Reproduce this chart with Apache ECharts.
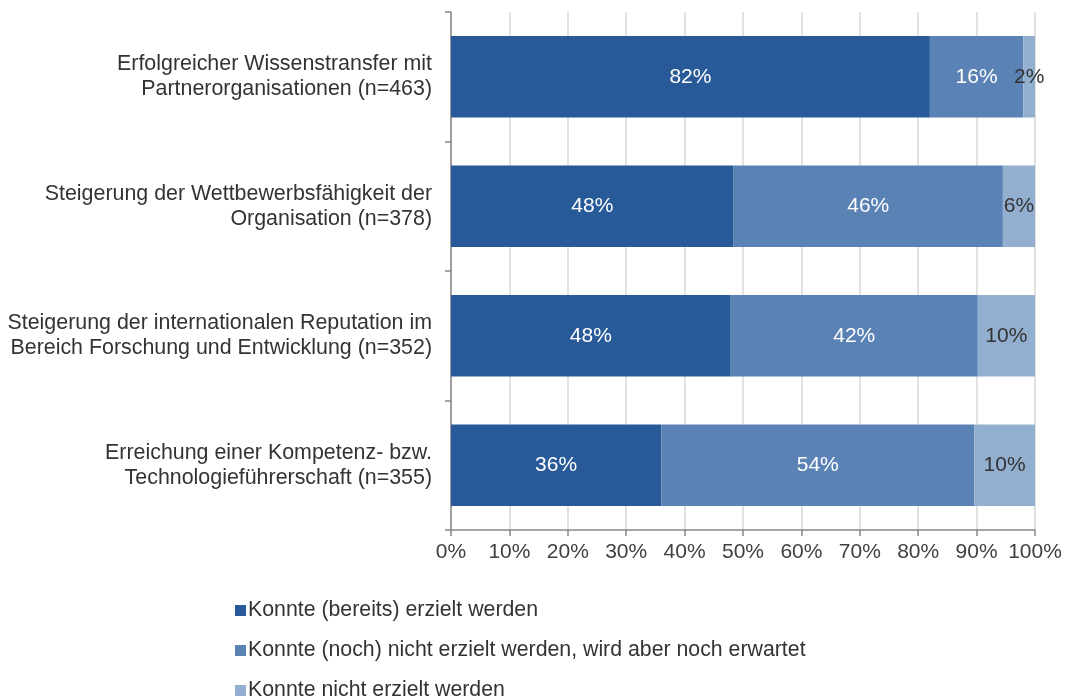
<!DOCTYPE html>
<html><head><meta charset="utf-8">
<script src="https://cdn.jsdelivr.net/npm/echarts@6/dist/echarts.min.js"></script>
<style>html,body{margin:0;padding:0;background:#fff}#c{width:1065px;height:700px}</style>
</head><body><div id="c"></div>
<script>
const categories = [
  'Erfolgreicher Wissenstransfer mit\nPartnerorganisationen (n=463)',
  'Steigerung der Wettbewerbsfähigkeit der\nOrganisation (n=378)',
  'Steigerung der internationalen Reputation im\nBereich Forschung und Entwicklung (n=352)',
  'Erreichung einer Kompetenz- bzw.\nTechnologieführerschaft (n=355)'
];
const seriesNames = [
  'Konnte (bereits) erzielt werden',
  'Konnte (noch) nicht erzielt werden, wird aber noch erwartet',
  'Konnte nicht erzielt werden'
];
const achieved = [82.0, 48.4, 47.9, 36.0];
const expected = [16.0, 46.1, 42.3, 53.6];
const notAchieved = [2.0, 5.5, 9.8, 10.4];
const colors = ['#285a99', '#5b82b4', '#93afd0'];
const labelColors = ['#ffffff', '#ffffff', '#333333'];
const values = [achieved, expected, notAchieved];

const chart = echarts.init(document.getElementById('c'));
chart.setOption({
  animation: false,
  textStyle: {fontFamily: 'Liberation Sans, Arial, sans-serif'},
  grid: {left: 451, right: 30, top: 12, bottom: 170, containLabel: false},
  legend: seriesNames.map((n, i) => ({
    orient: 'vertical', left: 230, top: 595 + i * 40,
    itemWidth: 11, itemHeight: 11,
    icon: 'rect',
    textStyle: {fontSize: 21.3, color: '#333', padding: [0,0,0,-3]},
    data: [n]
  })),
  xAxis: {
    type: 'value', min: 0, max: 100, interval: 10,
    axisLabel: {formatter: '{value}%', fontSize: 21, color: '#404040', margin: 12},
    axisLine: {show: true, lineStyle: {color: '#888', width: 1.5}},
    axisTick: {show: true, length: 6, lineStyle: {color: '#888', width: 1.5}},
    splitLine: {show: true, lineStyle: {color: '#d9d9d9', width: 1.5}}
  },
  yAxis: {
    type: 'category', data: categories, inverse: true,
    axisLabel: {fontSize: 21.4, color: '#333', margin: 19, lineHeight: 25, align: 'right'},
    axisLine: {show: true, lineStyle: {color: '#888', width: 1.5}},
    axisTick: {show: true, length: 6, lineStyle: {color: '#888', width: 1.5}},
    splitLine: {show: false}
  },
  series: values.map((v, i) => ({
    name: seriesNames[i], type: 'bar', stack: 'total',
    barWidth: '63%',
    data: v,
    itemStyle: {color: colors[i]},
    label: {
      show: true, position: 'inside', fontSize: 21, color: labelColors[i],
      formatter: p => Math.round(p.value) + '%'
    }
  }))
});
</script></body></html>
